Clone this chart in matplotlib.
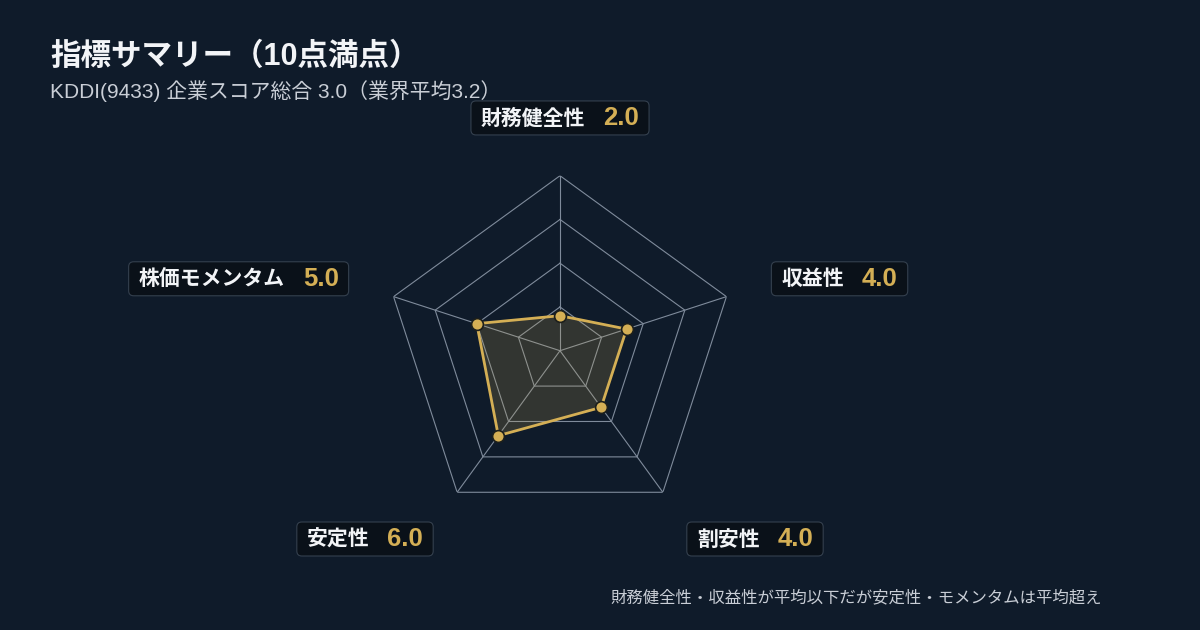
import numpy as np
import matplotlib
matplotlib.use('Agg')
import matplotlib.pyplot as plt
from matplotlib.patches import FancyBboxPatch
from matplotlib.transforms import IdentityTransform

categories = ['財務健全性', '収益性', '割安性', '安定性', '株価モメンタム']
scores = [2.0, 4.0, 4.0, 6.0, 5.0]
grid_levels = [2.5, 5.0, 7.5, 10.0]
max_score = 10.0
title = '指標サマリー（10点満点）'
subtitle = 'KDDI(9433) 企業スコア総合 3.0（業界平均3.2）'
note = '財務健全性・収益性が平均以下だが安定性・モメンタムは平均超え'

BG = '#0f1b2a'
GOLD = '#d4af55'
GRID = '#7f8b9b'
BOXBG = '#0a1119'
BOXEDGE = '#34404e'
TEXT = '#f2f4f7'
SUB = '#c9ced6'

LAT = ['Liberation Sans', 'Noto Sans CJK JP', 'DejaVu Sans']
CJK = ['Noto Sans CJK JP', 'DejaVu Sans']
plt.rcParams['font.family'] = CJK

W, H = 1200, 630
fig = plt.figure(figsize=(12, 6.3), dpi=100, facecolor=BG)
cx, cy, R = 560, 350.7, 175
ax = fig.add_axes([(cx - R) / W, (H - cy - R) / H, 2 * R / W, 2 * R / H], projection='polar')
ax.set_theta_offset(np.pi / 2)
ax.set_theta_direction(-1)
ax.set_ylim(0, max_score)
ax.set_axis_off()

n = len(categories)
angles = np.arange(n) * 2 * np.pi / n
closed = np.append(angles, angles[0])
for lv in grid_levels:
    ax.plot(closed, [lv] * (n + 1), color=GRID, lw=0.8, zorder=1)
for a in angles:
    ax.plot([a, a], [0, max_score], color=GRID, lw=0.8, zorder=1)

vals = scores + [scores[0]]
ax.fill(closed, vals, color=GOLD, alpha=0.18, lw=0, zorder=2)
ax.plot(closed, vals, color=GOLD, lw=2, zorder=3)
ax.plot(angles, scores, 'o', ms=8.5, mfc=GOLD, mec='#1c1f1c', mew=1.2, zorder=4)

fig.text(50 / W, 1 - 57 / H, title, fontsize=22, fontweight='bold', color=TEXT,
         ha='left', va='center', family=LAT)
fig.text(50 / W, 1 - 91 / H, subtitle, fontsize=15, color=SUB, ha='left', va='center', family=LAT)
fig.text(1102 / W, 1 - 598 / H, note, fontsize=11.8, color=SUB, ha='right', va='center', family=CJK)

fig.canvas.draw()
renderer = fig.canvas.get_renderer()
label_r = 13.3
padx, boxh, gap = 10, 34, 18
for ang, name, val in zip(angles, categories, scores):
    px, py = ax.transData.transform((ang, label_r))
    tn = fig.text(0, 0, name, fontsize=15, fontweight='bold', color=TEXT, family=CJK,
                  transform=IdentityTransform(), ha='left', va='center', zorder=6)
    tv = fig.text(0, 0, f'{val:.1f}', fontsize=18.5, fontweight='bold', color=GOLD, family=LAT,
                  transform=IdentityTransform(), ha='left', va='center', zorder=6)
    wn = tn.get_window_extent(renderer).width
    wv = tv.get_window_extent(renderer).width
    total = wn + gap + wv
    dx = np.sin(ang)
    if abs(dx) < 0.1:
        x0 = px - total / 2
    elif dx > 0:
        x0 = px
    else:
        x0 = px - total
    tn.set_position((x0, py))
    tv.set_position((x0 + wn + gap, py))
    box = FancyBboxPatch((x0 - padx, py - boxh / 2), total + 2 * padx, boxh,
                         boxstyle='round,pad=0,rounding_size=5',
                         transform=IdentityTransform(), fc=BOXBG, ec=BOXEDGE, lw=0.8, zorder=5)
    fig.add_artist(box)

fig.savefig('out.png', dpi=100, facecolor=BG)
